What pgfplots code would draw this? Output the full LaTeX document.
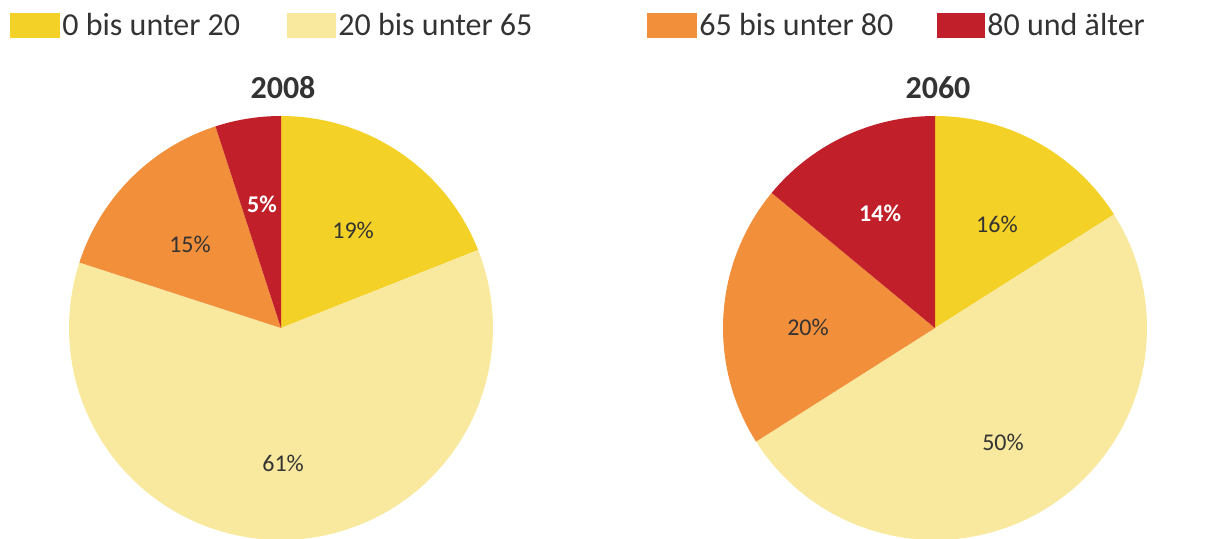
\documentclass[border=0pt]{standalone}
\usepackage{pgfplots}
\pgfplotsset{compat=1.18}
\usepackage{fontspec}
\setmainfont{Carlito}
\definecolor{cA}{HTML}{F4D126}
\definecolor{cB}{HTML}{F8E99F}
\definecolor{cC}{HTML}{F28F3B}
\definecolor{cD}{HTML}{C1202A}
\definecolor{txt}{HTML}{333333}
% sector: start percentage, percentage, colour
\newcommand{\sector}[3]{%
  \pgfmathsetmacro\sa{90-3.6*(#1)}%
  \pgfmathsetmacro\se{90-3.6*((#1)+(#2))}%
  \edef\tmp{\noexpand\addplot[fill=#3,draw=none,domain=\se:\sa,samples=80] ({cos(x)},{sin(x)}) -- (axis cs:0,0) -- cycle;}\tmp
}
\pgfplotsset{pie/.style={scale only axis,width=212pt,height=212pt,xmin=-1,xmax=1,ymin=-1,ymax=1,hide axis,clip=false}}
\begin{document}
\begin{tikzpicture}[x=1pt,y=1pt]
% 2008: 19, 61, 15, 5
\begin{axis}[pie,at={(140.5pt,105pt)},anchor=center]
\sector{0}{19}{cA}
\sector{19}{61}{cB}
\sector{80}{15}{cC}
\sector{95}{5}{cD}
\node[txt,font=\fontsize{12}{14}\selectfont] at (axis cs:0.34,0.458) {19\%};
\node[txt,font=\fontsize{12}{14}\selectfont] at (axis cs:0.01,-0.637) {61\%};
\node[txt,font=\fontsize{12}{14}\selectfont] at (axis cs:-0.429,0.396) {15\%};
\node[white,font=\fontsize{12}{14}\selectfont\bfseries] at (axis cs:-0.09,0.585) {5\%};
\end{axis}
% 2060: 16, 50, 20, 14
\begin{axis}[pie,at={(467.5pt,105pt)},anchor=center]
\sector{0}{16}{cA}
\sector{16}{50}{cB}
\sector{66}{20}{cC}
\sector{86}{14}{cD}
\node[txt,font=\fontsize{12}{14}\selectfont] at (axis cs:0.292,0.491) {16\%};
\node[txt,font=\fontsize{12}{14}\selectfont] at (axis cs:0.321,-0.538) {50\%};
\node[txt,font=\fontsize{12}{14}\selectfont] at (axis cs:-0.599,0.005) {20\%};
\node[white,font=\fontsize{12}{14}\selectfont\bfseries] at (axis cs:-0.259,0.542) {14\%};
\end{axis}
% titles
\node[txt,font=\fontsize{16}{18}\selectfont\bfseries] at (141.5,225) {2008};
\node[txt,font=\fontsize{16}{18}\selectfont\bfseries] at (469,225) {2060};
% legend
\fill[cA] (5,250) rectangle (30,262.5);
\node[txt,anchor=west,inner sep=0pt,font=\fontsize{16}{18}\selectfont] at (31,256.5) {0 bis unter 20};
\fill[cB] (143.5,250) rectangle (168,262.5);
\node[txt,anchor=west,inner sep=0pt,font=\fontsize{16}{18}\selectfont] at (169,256.5) {20 bis unter 65};
\fill[cC] (323.5,250) rectangle (348.5,262.5);
\node[txt,anchor=west,inner sep=0pt,font=\fontsize{16}{18}\selectfont] at (349.5,256.5) {65 bis unter 80};
\fill[cD] (468.5,250) rectangle (492.5,262.5);
\node[txt,anchor=west,inner sep=0pt,font=\fontsize{16}{18}\selectfont] at (493.5,256.5) {80 und älter};
\pgfresetboundingbox
\path[use as bounding box] (0,0) rectangle (607,269);
\end{tikzpicture}
\end{document}
